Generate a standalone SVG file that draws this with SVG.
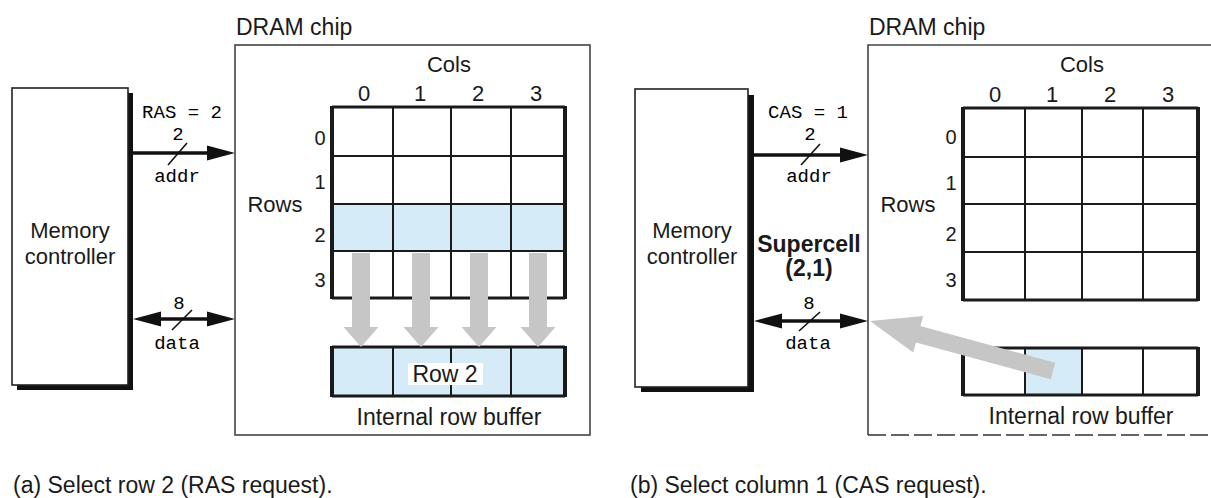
<svg xmlns="http://www.w3.org/2000/svg" width="1211" height="498" viewBox="0 0 1211 498">
<style>
.sans{font-family:"Liberation Sans",Arial,sans-serif;fill:#1a1a1a}
.t23{font-size:23px}
.t22{font-size:22px}
.t20{font-size:20px}
.mono{font-family:"Liberation Mono","Courier New",monospace;font-size:19px;fill:#000}
.box{fill:#fff;stroke:#222;stroke-width:1.6}
.shadow{fill:#111}
.chip{fill:#fff;stroke:#444;stroke-width:1.6}
.inner{stroke:#1a1a1a;stroke-width:2;fill:none}
.outer{stroke:#1a1a1a;stroke-width:3;fill:none}
.side{stroke:#1a1a1a;stroke-width:4;fill:none}
.hl{fill:#d5ebf7}
.bus{stroke:#111;stroke-width:3.5;fill:none}
.slash{stroke:#111;stroke-width:1.6}
.gray{fill:#c6c6c6}
</style>
<defs>
<marker id="head" viewBox="0 0 28 16" refX="13" refY="8" markerWidth="28" markerHeight="16" markerUnits="userSpaceOnUse" orient="auto-start-reverse">
<path d="M0,0.5 L28,8 L0,15.5 Z" fill="#111"/>
</marker>
<path id="vdown" d="M-9,0 H9 V74 H17.5 L0,94 L-17.5,74 H-9 Z"/>
</defs>

<!-- ===== Panel (a) ===== -->
<g id="memctrl-a">
<rect class="shadow" x="17" y="93" width="116" height="297"/>
<rect class="box" x="12" y="88" width="116" height="297"/>
<text class="sans t22" x="70" y="238" text-anchor="middle">Memory</text>
<text class="sans t22" x="70" y="264" text-anchor="middle">controller</text>
</g>

<g id="dram-a">
<text class="sans t23" x="236" y="35">DRAM chip</text>
<rect class="chip" x="235" y="45" width="355" height="390"/>
<text class="sans t22" x="449" y="72" text-anchor="middle">Cols</text>
<text class="sans t22" x="364" y="101" text-anchor="middle">0</text>
<text class="sans t22" x="420" y="101" text-anchor="middle">1</text>
<text class="sans t22" x="478" y="101" text-anchor="middle">2</text>
<text class="sans t22" x="536" y="101" text-anchor="middle">3</text>
<text class="sans t22" x="275" y="212" text-anchor="middle">Rows</text>
<text class="sans t20" x="320" y="145" text-anchor="middle">0</text>
<text class="sans t20" x="320" y="189" text-anchor="middle">1</text>
<text class="sans t20" x="320" y="242" text-anchor="middle">2</text>
<text class="sans t20" x="320" y="287" text-anchor="middle">3</text>
</g>

<g id="grid-a">
<rect class="hl" x="332" y="204" width="233" height="47"/>
<path class="inner" d="M393,107 V298 M451,107 V298 M511,107 V298 M332,156 H565 M332,204 H565 M332,251 H565"/>
<path class="outer" d="M332,107 H565 M332,298 H565"/>
<path class="side" d="M332,106 V299 M565,106 V299"/>
</g>

<g id="buffer-a">
<rect class="hl" x="332" y="347" width="233" height="49"/>
<path class="inner" d="M393,347 V396 M451,347 V396 M511,347 V396"/>
<path class="outer" d="M332,347 H565 M332,396 H565"/>
<path class="side" d="M332,346 V397 M565,346 V397"/>
<rect x="408" y="363" width="75" height="22" fill="#fff"/>
<text class="sans t23" x="445" y="382" text-anchor="middle">Row 2</text>
<text class="sans t23" x="449" y="425" text-anchor="middle">Internal row buffer</text>
</g>

<g id="transfer-a">
<use href="#vdown" class="gray" x="361" y="253"/>
<use href="#vdown" class="gray" x="421" y="253"/>
<use href="#vdown" class="gray" x="479" y="253"/>
<use href="#vdown" class="gray" x="538" y="253"/>
</g>

<g id="connectors-a">
<line class="bus" x1="133" y1="153" x2="220" y2="153" marker-end="url(#head)"/>
<line class="slash" x1="168" y1="165" x2="187" y2="143"/>
<text class="mono" x="182" y="118" text-anchor="middle">RAS = 2</text>
<text class="mono" x="178" y="140" text-anchor="middle">2</text>
<text class="mono" x="177" y="182" text-anchor="middle">addr</text>
<line class="bus" x1="148" y1="319" x2="220" y2="319" marker-start="url(#head)" marker-end="url(#head)"/>
<line class="slash" x1="172" y1="330" x2="192" y2="310"/>
<text class="mono" x="179" y="309" text-anchor="middle">8</text>
<text class="mono" x="177" y="349" text-anchor="middle">data</text>
</g>

<text class="sans t23" x="13" y="493">(a) Select row 2 (RAS request).</text>

<!-- ===== Panel (b) ===== -->
<g id="memctrl-b">
<rect class="shadow" x="641" y="95" width="113" height="297"/>
<rect class="box" x="635" y="89" width="113" height="298"/>
<text class="sans t22" x="692" y="238" text-anchor="middle">Memory</text>
<text class="sans t22" x="692" y="264" text-anchor="middle">controller</text>
</g>

<g id="dram-b">
<text class="sans t23" x="869" y="35">DRAM chip</text>
<path class="chip" d="M1212,45 H868 V435"/>
<path d="M868,435 H1211" stroke="#333" stroke-width="1.6" stroke-dasharray="18 5" fill="none"/>
<text class="sans t22" x="1082" y="72" text-anchor="middle">Cols</text>
<text class="sans t22" x="995" y="102" text-anchor="middle">0</text>
<text class="sans t22" x="1052" y="102" text-anchor="middle">1</text>
<text class="sans t22" x="1110" y="102" text-anchor="middle">2</text>
<text class="sans t22" x="1168" y="102" text-anchor="middle">3</text>
<text class="sans t22" x="908" y="212" text-anchor="middle">Rows</text>
<text class="sans t20" x="951" y="144" text-anchor="middle">0</text>
<text class="sans t20" x="951" y="190" text-anchor="middle">1</text>
<text class="sans t20" x="951" y="241" text-anchor="middle">2</text>
<text class="sans t20" x="951" y="287" text-anchor="middle">3</text>
</g>

<g id="grid-b">
<path class="inner" d="M1025,108 V300 M1082,108 V300 M1143,108 V300 M963,157 H1198 M963,204 H1198 M963,252 H1198"/>
<path class="outer" d="M963,108 H1198 M963,300 H1198"/>
<path class="side" d="M963,107 V301 M1198,107 V301"/>
</g>

<g id="buffer-b">
<rect class="hl" x="1025" y="348" width="57" height="47"/>
<path class="inner" d="M1025,348 V395 M1082,348 V395 M1143,348 V395"/>
<path class="outer" d="M963,348 H1198 M963,395 H1198"/>
<path class="side" d="M963,347 V396 M1198,347 V396"/>
<text class="sans t23" x="1081" y="424" text-anchor="middle">Internal row buffer</text>
</g>

<g id="transfer-b">
<polygon class="gray" points="1055.2,362.8 920.4,326.0 923.2,315.9 870,321 913.2,352.5 916.0,342.4 1050.8,379.2"/>
</g>

<g id="connectors-b">
<line class="bus" x1="754" y1="155" x2="853" y2="155" marker-end="url(#head)"/>
<line class="slash" x1="801" y1="165" x2="820" y2="144"/>
<text class="mono" x="808" y="118" text-anchor="middle">CAS = 1</text>
<text class="mono" x="810" y="140" text-anchor="middle">2</text>
<text class="mono" x="809" y="182" text-anchor="middle">addr</text>
<line class="bus" x1="769" y1="321" x2="853" y2="321" marker-start="url(#head)" marker-end="url(#head)"/>
<line class="slash" x1="799" y1="331" x2="820" y2="312"/>
<text class="mono" x="809" y="309" text-anchor="middle">8</text>
<text class="mono" x="808" y="349" text-anchor="middle">data</text>
<text class="sans t23" x="809" y="252" text-anchor="middle" font-weight="bold">Supercell</text>
<text class="sans t23" x="809" y="276" text-anchor="middle" font-weight="bold">(2,1)</text>
</g>

<text class="sans t23" x="630" y="493">(b) Select column 1 (CAS request).</text>
</svg>
